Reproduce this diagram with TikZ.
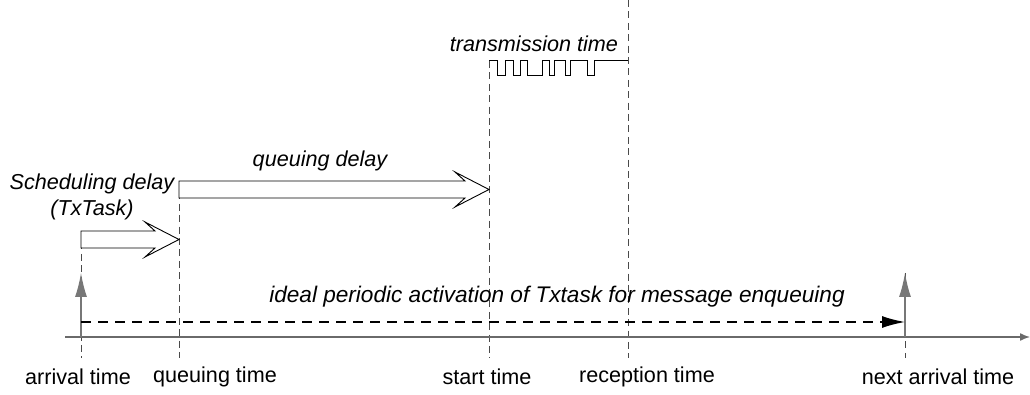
\documentclass[tikz,border=0pt]{standalone}
\usepackage{fontspec}
\setmainfont{Liberation Sans}
\usepackage{xcolor}
\usepackage{tikz}
\usetikzlibrary{arrows.meta,positioning}
\definecolor{Axis}{HTML}{6A6A6A}
\definecolor{Tick}{HTML}{4A4A4A}
\definecolor{Act}{HTML}{777777}

\begin{document}
\begin{tikzpicture}[x=0.5pt,y=-0.5pt,font=\fontsize{10.8}{13}\selectfont,
    tick/.style={draw=Tick,line width=0.5pt,dash pattern=on 3.5pt off 2.2pt},
    block/.style={draw=black,line width=0.45pt,fill=white},
    act/.style={-{Latex[length=12pt,width=6pt]},draw=black!80,line width=0.6pt,color=Act},
    lbl/.style={font=\fontsize{10.8}{13}\selectfont\itshape}]
      \useasboundingbox (0,0) rectangle (1030,395);
      % time axis
      \coordinate (o) at (65,337);
      \coordinate (e) at (1030,337);
      \coordinate (arr) at (81,337);
      \coordinate (nxt) at (905,337);
      % labels under the axis
      \node (larr) at (78,377) {arrival time};
      \node (lque) at (215,377) {queuing time};
      \node (lsta) at (487,377) {start time};
      \node (lrec) at (647,377) {reception time};
      \node (lnxt) at (938,377) {next arrival time};
      \foreach \x/\top in {81/231,179/181,489/61,628/0,905/273}
        \draw[tick] (\x,\top) -- (\x,358);
      \draw[-{Latex[length=5pt,width=4pt]},line width=0.7pt,draw=Axis] (o) -- (e);
      \foreach \t in {arr,nxt}
        \draw[act] (\t) -- ++(0,-64);
      % ideal periodic activation
      \coordinate (ia) at (81,322);
      \coordinate (ib) at (905,322);
      \draw[-{Latex[length=11.5pt,width=6pt]},line width=0.7pt,dash pattern=on 5pt off 3.5pt] (ia) -- (ib);
      \node[lbl,font=\fontsize{11.3}{13}\selectfont\itshape] (ideal) at (557,297) {ideal periodic activation of Txtask for message enqueuing};
      % delays
      \foreach \s/\t/\y in {81/179/239.5,179/489/189.5}
        \draw[block] (\s,\y-8.5) -- (\t-24,\y-8.5) -- (\t-34,\y-17.5) -- (\t,\y)
          -- (\t-34,\y+17.5) -- (\t-24,\y+8.5) -- (\s,\y+8.5) -- cycle;
      \node[lbl,align=center] (sched) at (92,197) {Scheduling delay\\(TxTask)};
      \node[lbl] (qdelay) at (320,161) {queuing delay};
      % transmission
      \draw[line width=0.5pt] (489,61)
        \foreach \a/\b in {497/505,513/520,527/542,549/554,565/570,587/594} { -| (\a,76) -| (\b,61) }
        -- (628,61);
      \node[lbl] (trans) at (534,44) {transmission time};
    \end{tikzpicture}
\end{document}
